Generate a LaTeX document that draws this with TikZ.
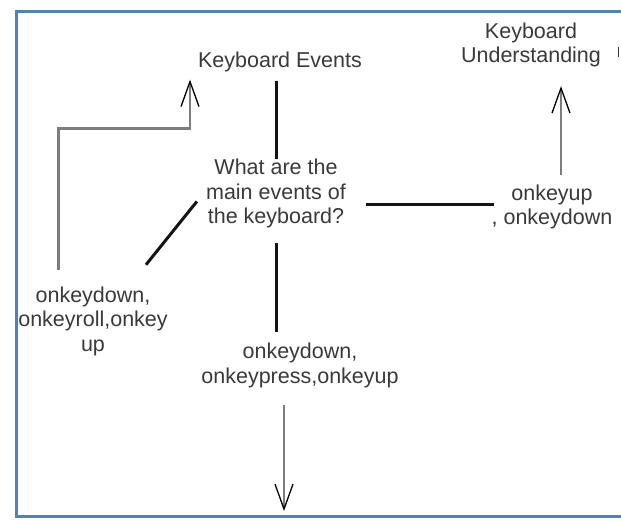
\documentclass[tikz,border=0pt]{standalone}
\usepackage{fontspec}
\setmainfont{Liberation Sans}
\usetikzlibrary{arrows.meta,calc}
\definecolor{framecol}{RGB}{79,129,189}
\definecolor{labelcol}{RGB}{58,58,58}
\definecolor{shaftcol}{RGB}{125,125,125}
\definecolor{linkcol}{RGB}{20,20,20}
\begin{document}
\begin{tikzpicture}[x=1pt,y=-1pt,
  label/.style={inner sep=0pt,align=center,anchor=base,text=labelcol,
    font=\fontsize{21.5}{24.5}\selectfont},
  link/.style={draw=linkcol,line width=3pt},
  flow/.style={draw=shaftcol,line width=2.8pt,
    -{Straight Barb[length=25pt,width=18pt,line width=1.3pt,color=black]}}]
\useasboundingbox (0,0) rectangle (621,521);
\fill[white] (0,0) rectangle (621,521);

% open frame around the sheet
\draw[framecol,line width=2.6pt] (630,11.5) -- (16.5,11.5) -- (16.5,516.5) -- (630,516.5);
% stray mark at the right edge
\draw[labelcol,line width=1pt] (618,47) -- (618,57);

% labels (base = baseline of the last line)
\node[label] (ev)    at (280,68)  {Keyboard Events};
\node[label] (und)   at (531,63)  {Keyboard\\Understanding};
\node[label] (q)     at (276,224) {What are the\\main events of\\the keyboard?};
\node[label] (upd)   at (552,225) {onkeyup\\, onkeydown};
\node[label] (roll)  at (93,351)  {onkeydown,\\onkeyroll,onkey\\up};
\node[label] (press) at (300,383) {onkeydown,\\onkeypress,onkeyup};
\coordinate (out) at (284,511);
\coordinate (qr) at ($(q.east)+(20,10.5)$);

% black links around the question
\draw[link] ($(ev.south -| q.north)+(0,8.5)$) -- (q.north);
\draw[link] ($(q.south)+(0,14.5)$) -- ($(q.south |- press.north)+(0,-10.7)$);
\draw[link] (qr) -- ($(qr -| upd.west)+(3,0)$);
\draw[link] ($(roll.north)+(53,-21.5)$) -- ($(q.west)+(-9,7.5)$);

% grey arrows
\draw[flow] ($(roll.north)+(-34.5,-16)$) |- ($(ev.south)+(-90,56)$) -- ($(ev.south)+(-90,7)$);
\draw[flow] ($(upd.north)+(9,-10)$) -- ($(und.south)+(30,18.5)$);
\draw[flow] ($(press.south)+(-16,17.5)$) -- (out);
\end{tikzpicture}
\end{document}
